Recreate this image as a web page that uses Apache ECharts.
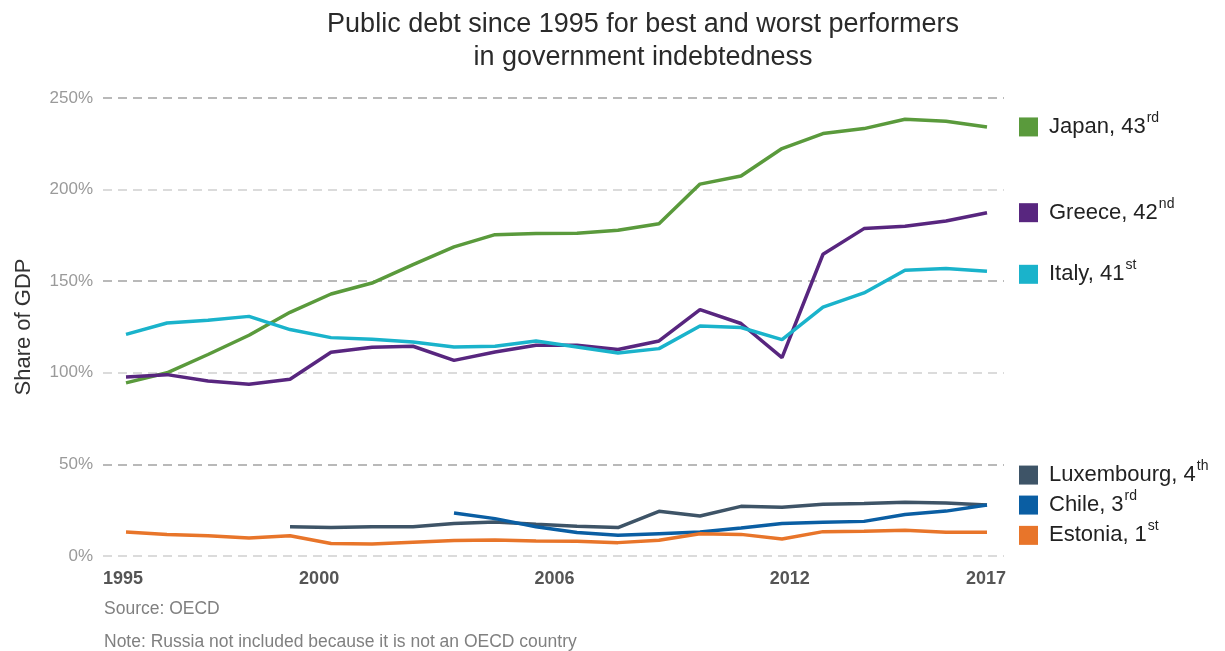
<!DOCTYPE html>
<html lang="en">
<head>
    <meta charset="UTF-8">
    <title>Public debt since 1995</title>
    <script src="https://cdn.jsdelivr.net/npm/echarts@6.0.0/dist/echarts.min.js"></script>
    <style>
        html, body { margin: 0; padding: 0; background: #fff; }
        #chart { width: 1225px; height: 651px; }
    </style>
</head>
<body>
    <div id="chart"></div>
    <script>
        // data points (one per year, as drawn in the source chart)
        const years = ['1996', '1997', '1998', '1999', '2000', '2001', '2002', '2003', '2004', '2005', '2006',
            '2007', '2008', '2009', '2010', '2011', '2012', '2013', '2014', '2015', '2016', '2017'];
        const xTickLabels = [1995, 2000, 2006, 2012, 2017];
        const yTicks = [0, 50, 100, 150, 200, 250];

        const japan = [94.5, 100, 110, 120.5, 133, 143, 149, 159, 168.7, 175.4, 176, 176.2, 177.8, 181.4, 203, 207.4, 222.4, 230.6, 233.3, 238.4, 237.3, 234.2];
        const greece = [97.7, 99, 95.5, 93.7, 96.5, 111.2, 114, 114.5, 106.8, 111.4, 115, 115, 112.7, 117.4, 134.5, 126.9, 108.3, 164.7, 178.7, 180, 182.9, 187.4];
        const italy = [121, 127.2, 128.7, 130.8, 123.6, 119.2, 118.3, 116.8, 114.1, 114.5, 117.4, 114.1, 110.8, 113.2, 125.5, 124.7, 118.1, 135.9, 143.6, 156, 156.9, 155.4];
        const luxembourg = [null, null, null, null, 16, 15.5, 16, 16, 17.7, 18.6, 17.3, 16.2, 15.5, 24.4, 21.8, 27.1, 26.6, 28.2, 28.6, 29.3, 28.9, 27.8];
        const chile = [null, null, null, null, null, null, null, null, 23.5, 20.4, 16, 12.8, 11.3, 12.2, 13.1, 15.3, 17.8, 18.4, 18.9, 22.6, 24.5, 27.8];
        const estonia = [13.1, 11.8, 11.1, 9.8, 11.1, 6.8, 6.6, 7.5, 8.4, 8.7, 8.2, 8.0, 7.3, 8.6, 12.2, 11.8, 9.3, 13.3, 13.5, 14, 12.9, 12.9];

        const countries = ['Japan', 'Greece', 'Italy', 'Luxembourg', 'Chile', 'Estonia'];
        const ranks = ['43', '42', '41', '4', '3', '1'];
        const suffixes = ['rd', 'nd', 'st', 'th', 'rd', 'st'];
        const values = [japan, greece, italy, luxembourg, chile, estonia];
        const colors = ['#5a9a3c', '#58267f', '#1ab3cb', '#3e5467', '#0a5ea3', '#e8752a'];
        const labelShift = [0, 0, 3, -30, 0, 3];

        const FONT = 'Liberation Sans, Arial, sans-serif';

        const chart = echarts.init(document.getElementById('chart'));

        const series = countries.map(function (name, i) {
            return {
                name: name,
                type: 'line',
                xAxisIndex: 1,
                yAxisIndex: 1,
                data: values[i],
                symbol: 'none',
                connectNulls: false,
                lineStyle: { width: 3.5, color: colors[i] },
                itemStyle: { color: colors[i] },
                emphasis: { disabled: true },
                endLabel: {
                    show: true,
                    distance: 32,
                    offset: [0, labelShift[i]],
                    formatter: '{sq|}{n|' + name + ', ' + ranks[i] + '}{sup|' + suffixes[i] + '}',
                    rich: {
                        sq: { width: 19, height: 19, backgroundColor: colors[i] },
                        n: { fontSize: 22, color: '#222', fontFamily: FONT, lineHeight: 32, padding: [0, 0, 0, 11] },
                        sup: { fontSize: 14, color: '#222', fontFamily: FONT, lineHeight: 15, verticalAlign: 'top', padding: [0, 0, 0, 1] }
                    }
                }
            };
        });

        chart.setOption({
            animation: false,
            backgroundColor: '#fff',
            title: {
                text: 'Public debt since 1995 for best and worst performers\nin government indebtedness',
                left: 638,
                textAlign: 'center',
                top: 3,
                textStyle: { fontSize: 27, fontWeight: 'normal', color: '#2a2a2a', lineHeight: 33, fontFamily: FONT }
            },
            grid: [
                { left: 103, right: 221, top: 98, bottom: 95 },
                { left: 126, right: 238, top: 98, bottom: 95 }
            ],
            xAxis: [
                {
                    type: 'value',
                    gridIndex: 0,
                    min: 1994.49,
                    max: 2017.46,
                    axisLine: { show: false },
                    axisTick: { show: false },
                    splitLine: { show: false },
                    axisLabel: {
                        customValues: xTickLabels,
                        formatter: function (v) { return String(v); },
                        fontSize: 18,
                        fontWeight: 'bold',
                        color: '#555',
                        fontFamily: FONT,
                        margin: 14
                    }
                },
                {
                    type: 'category',
                    gridIndex: 1,
                    data: years,
                    boundaryGap: false,
                    show: false
                }
            ],
            yAxis: [
                {
                    type: 'value',
                    gridIndex: 0,
                    min: yTicks[0],
                    max: yTicks[yTicks.length - 1],
                    interval: 50,
                    name: 'Share of GDP',
                    nameLocation: 'middle',
                    nameGap: 68,
                    nameTextStyle: { fontSize: 22, color: '#333', fontFamily: FONT },
                    axisLine: { show: false },
                    axisTick: { show: false },
                    axisLabel: {
                        formatter: '{value}%',
                        fontSize: 17,
                        color: '#9a9a9a',
                        fontFamily: FONT,
                        margin: 10
                    },
                    splitLine: {
                        lineStyle: { color: ['#cfcfcf', '#a3a3a3'], type: [9, 6], width: 1.5 }
                    }
                },
                {
                    type: 'value',
                    gridIndex: 1,
                    min: yTicks[0],
                    max: yTicks[yTicks.length - 1],
                    show: false
                }
            ],
            graphic: [
                {
                    type: 'text',
                    left: 104,
                    top: 600,
                    style: { text: 'Source: OECD', fontSize: 17.5, fill: '#808080', fontFamily: FONT }
                },
                {
                    type: 'text',
                    left: 104,
                    top: 633,
                    style: { text: 'Note: Russia not included because it is not an OECD country', fontSize: 17.5, fill: '#808080', fontFamily: FONT }
                }
            ],
            series: series
        });
    </script>
</body>
</html>
